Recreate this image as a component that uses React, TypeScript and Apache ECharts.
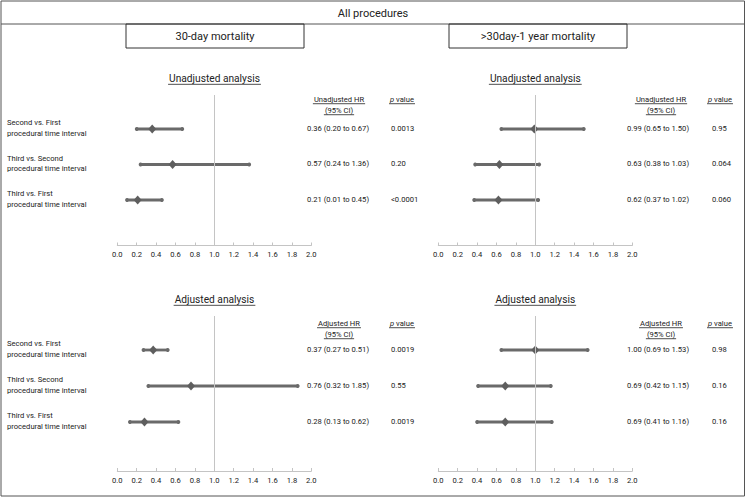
import React, { useEffect, useRef } from "react";
import * as echarts from "echarts";

// ---------- data ----------
const rowLabels = [
  "Second vs. First\nprocedural time interval",
  "Third vs. Second\nprocedural time interval",
  "Third vs. First\nprocedural time interval",
];
const rowIds = [1, 2, 3];

// 30-day mortality, unadjusted
const m30UnadjHR = [0.36, 0.57, 0.21];
const m30UnadjLow = [0.2, 0.24, 0.1];
const m30UnadjHigh = [0.67, 1.36, 0.46];
const m30UnadjText = ["0.36 (0.20 to 0.67)", "0.57 (0.24 to 1.36)", "0.21 (0.01 to 0.45)"];
const m30UnadjP = ["0.0013", "0.20", "<0.0001"];

// 30-day mortality, adjusted
const m30AdjHR = [0.37, 0.76, 0.28];
const m30AdjLow = [0.27, 0.32, 0.13];
const m30AdjHigh = [0.52, 1.86, 0.63];
const m30AdjText = ["0.37 (0.27 to 0.51)", "0.76 (0.32 to 1.85)", "0.28 (0.13 to 0.62)"];
const m30AdjP = ["0.0019", "0.55", "0.0019"];

// >30 day - 1 year mortality, unadjusted
const y1UnadjHR = [0.99, 0.63, 0.62];
const y1UnadjLow = [0.65, 0.38, 0.37];
const y1UnadjHigh = [1.5, 1.04, 1.03];
const y1UnadjText = ["0.99 (0.65 to 1.50)", "0.63 (0.38 to 1.03)", "0.62 (0.37 to 1.02)"];
const y1UnadjP = ["0.95", "0.064", "0.060"];

// >30 day - 1 year mortality, adjusted
const y1AdjHR = [1.0, 0.69, 0.69];
const y1AdjLow = [0.65, 0.41, 0.4];
const y1AdjHigh = [1.54, 1.16, 1.17];
const y1AdjText = ["1.00 (0.69 to 1.53)", "0.69 (0.42 to 1.15)", "0.69 (0.41 to 1.16)"];
const y1AdjP = ["0.98", "0.16", "0.16"];

const axisMin = 0;
const axisMax = 2;
const axisStep = 0.2;

// ---------- style ----------
const FONT = "Roboto, 'Noto Sans', sans-serif";
const SMALL = 7.6;
const TITLE = 11;
const PANEL = 10.2;
const TXT = "#222";
const BAR = "#6a6a6a";
const REF = "#c4c4c4";

function measure(text: string, size: number, style = "normal") {
  const c = document.createElement("canvas").getContext("2d");
  if (!c) return text.length * size * 0.5;
  c.font = `${style} ${size}px Roboto`;
  return c.measureText(text).width;
}

function underlined(text: string, cx: number, cy: number, size: number, rich?: any, plain?: string) {
  const w = measure(plain || text, size) + 2;
  return [
    {
      type: "text",
      x: cx,
      y: cy,
      style: {
        text,
        fill: TXT,
        fontSize: size,
        fontFamily: FONT,
        align: "center",
        verticalAlign: "middle",
        rich,
      },
    },
    {
      type: "line",
      shape: { x1: cx - w / 2, y1: cy + size * 0.62, x2: cx + w / 2, y2: cy + size * 0.62 },
      style: { stroke: TXT, lineWidth: 0.8 },
    },
  ];
}

export default function App() {
  const ref = useRef<HTMLDivElement>(null);

  useEffect(() => {
    document.body.style.margin = "0";
    if (!ref.current) return;
    const chart = echarts.init(ref.current, null, { renderer: "svg" });

    const panels = [
      { left: 117.3, top: 95, height: 150.5, firstRow: 34, gap: 35.5, hr: m30UnadjHR, lo: m30UnadjLow, hi: m30UnadjHigh, text: m30UnadjText, p: m30UnadjP, labels: true, hrX: 338, pX: 391 },
      { left: 438.3, top: 95, height: 150.5, firstRow: 34, gap: 35.5, hr: y1UnadjHR, lo: y1UnadjLow, hi: y1UnadjHigh, text: y1UnadjText, p: y1UnadjP, labels: false, hrX: 658, pX: 712 },
      { left: 117.3, top: 316, height: 155, firstRow: 34, gap: 36, hr: m30AdjHR, lo: m30AdjLow, hi: m30AdjHigh, text: m30AdjText, p: m30AdjP, labels: true, hrX: 338, pX: 391 },
      { left: 438.3, top: 316, height: 155, firstRow: 34, gap: 36, hr: y1AdjHR, lo: y1AdjLow, hi: y1AdjHigh, text: y1AdjText, p: y1AdjP, labels: false, hrX: 658, pX: 712 },
    ];
    const gridWidth = 194;

    const grid = panels.map((p) => ({
      left: p.left,
      top: p.top,
      width: gridWidth,
      height: p.height,
      containLabel: false,
      outerBoundsMode: "none",
    }));

    const xAxis = panels.map((_, i) => ({
      type: "value",
      gridIndex: i,
      min: axisMin,
      max: axisMax,
      interval: axisStep,
      axisLine: { show: true, lineStyle: { color: REF, width: 1 } },
      axisTick: { show: true, inside: true, length: 3, lineStyle: { color: REF } },
      splitLine: { show: false },
      axisLabel: {
        formatter: (v: number) => v.toFixed(1),
        fontSize: SMALL,
        color: TXT,
        fontFamily: FONT,
        margin: 5,
        showMinLabel: true,
        showMaxLabel: true,
      },
    }));

    const yAxis = panels.map((p, i) => {
      const yMin = 1 - p.firstRow / p.gap;
      return {
        type: "value",
        gridIndex: i,
        inverse: true,
        min: yMin,
        max: yMin + p.height / p.gap,
        show: false,
      };
    });

    const series = panels.map((p, i) => ({
      type: "custom",
      xAxisIndex: i,
      yAxisIndex: i,
      clip: false,
      data: rowIds.map((r, k) => [p.lo[k], p.hr[k], p.hi[k], r]),
      markLine: {
        silent: true,
        symbol: ["none", "none"],
        label: { show: false },
        lineStyle: { color: REF, width: 1, type: "solid" },
        data: [{ xAxis: 1 }],
      },
      renderItem: (params: any, api: any) => {
        const k = params.dataIndex;
        const row = api.value(3);
        const a = api.coord([api.value(0), row]);
        const m = api.coord([api.value(1), row]);
        const b = api.coord([api.value(2), row]);
        const y = m[1];
        const children: any[] = [
          { type: "line", shape: { x1: a[0], y1: y, x2: b[0], y2: y }, style: { stroke: BAR, lineWidth: 2.8 } },
          { type: "circle", shape: { cx: a[0], cy: y, r: 1.9 }, style: { fill: BAR } },
          { type: "circle", shape: { cx: b[0], cy: y, r: 1.9 }, style: { fill: BAR } },
          {
            type: "polygon",
            shape: { points: [[m[0], y - 4.6], [m[0] + 4, y], [m[0], y + 4.6], [m[0] - 4, y]] },
            style: { fill: "#5e5e5e" },
          },
          {
            type: "text",
            x: p.hrX,
            y: y - 1,
            style: { text: p.text[k], fill: TXT, fontSize: SMALL, fontFamily: FONT, align: "center", verticalAlign: "middle" },
          },
          {
            type: "text",
            x: p.pX,
            y: y - 1,
            style: { text: p.p[k], fill: TXT, fontSize: SMALL, fontFamily: FONT, align: "left", verticalAlign: "middle" },
          },
        ];
        if (p.labels) {
          children.push({
            type: "text",
            x: 7,
            y: y - 1,
            style: {
              text: rowLabels[k],
              fill: TXT,
              fontSize: SMALL,
              lineHeight: 10.5,
              fontFamily: FONT,
              align: "left",
              verticalAlign: "middle",
            },
          });
        }
        return { type: "group", children };
      },
    }));

    const pRich = { i: { fontStyle: "italic", fontSize: SMALL, fontFamily: FONT, fill: TXT } };

    const graphic: any[] = [
      { type: "rect", shape: { x: 1, y: 1, width: 743.5, height: 495 }, style: { fill: "none", stroke: "#555", lineWidth: 1 } },
      { type: "line", shape: { x1: 1, y1: 24, x2: 744.5, y2: 24 }, style: { stroke: "#555", lineWidth: 1 } },
      { type: "rect", shape: { x: 126, y: 24, width: 178, height: 24 }, style: { fill: "none", stroke: "#333", lineWidth: 1 } },
      { type: "rect", shape: { x: 449, y: 24, width: 178, height: 24 }, style: { fill: "none", stroke: "#333", lineWidth: 1 } },
      { type: "text", x: 373, y: 13, style: { text: "All procedures", fill: TXT, fontSize: TITLE, fontFamily: FONT, align: "center", verticalAlign: "middle" } },
      { type: "text", x: 215, y: 36, style: { text: "30-day mortality", fill: TXT, fontSize: TITLE, fontFamily: FONT, align: "center", verticalAlign: "middle" } },
      { type: "text", x: 538, y: 36, style: { text: ">30day-1 year mortality", fill: TXT, fontSize: TITLE, fontFamily: FONT, align: "center", verticalAlign: "middle" } },
      ...underlined("Unadjusted analysis", 214.5, 78, PANEL),
      ...underlined("Unadjusted analysis", 535.3, 78, PANEL),
      ...underlined("Adjusted analysis", 214.5, 299, PANEL),
      ...underlined("Adjusted analysis", 535.3, 299, PANEL),
    ];

    const headers = [
      { cx: 339, pcx: 402, y: 99, name: "Unadjusted HR" },
      { cx: 661, pcx: 720, y: 99, name: "Unadjusted HR" },
      { cx: 339, pcx: 402, y: 323, name: "Adjusted HR" },
      { cx: 661, pcx: 720, y: 323, name: "Adjusted HR" },
    ];
    headers.forEach((h) => {
      graphic.push(...underlined(h.name, h.cx, h.y, SMALL));
      graphic.push(...underlined("(95% CI)", h.cx, h.y + 11, SMALL));
      graphic.push(...underlined("{i|p} value", h.pcx, h.y, SMALL, pRich, "p value"));
    });

    chart.setOption({
      animation: false,
      backgroundColor: "#fff",
      textStyle: { fontFamily: FONT },
      grid,
      xAxis,
      yAxis,
      series,
      graphic,
    });

    return () => chart.dispose();
  }, []);

  return <div ref={ref} style={{ width: 747, height: 498 }} />;
}
